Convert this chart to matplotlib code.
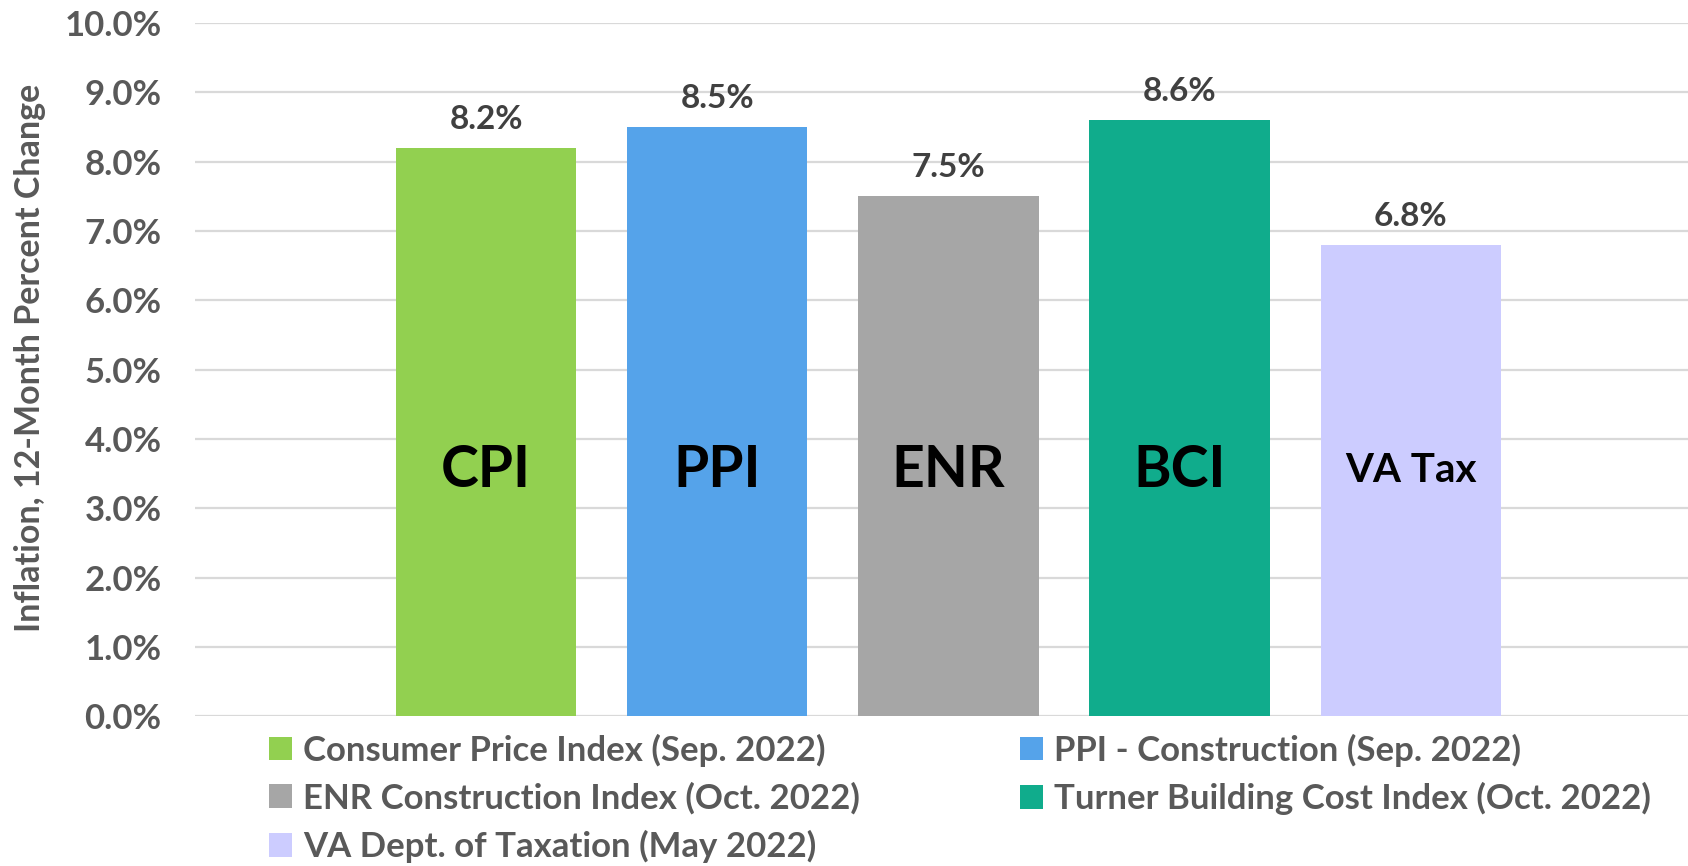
import matplotlib

matplotlib.use("Agg")
import matplotlib.pyplot as plt  # noqa: E402
from matplotlib.patches import Patch  # noqa: E402
from matplotlib.ticker import FuncFormatter, MultipleLocator  # noqa: E402

plt.rcParams["font.family"] = ["Lato", "DejaVu Sans"]

short_names = ["CPI", "PPI", "ENR", "BCI", "VA Tax"]
long_names = [
    "Consumer Price Index (Sep. 2022)",
    "PPI - Construction (Sep. 2022)",
    "ENR Construction Index (Oct. 2022)",
    "Turner Building Cost Index (Oct. 2022)",
    "VA Dept. of Taxation (May 2022)",
]
values = [8.2, 8.5, 7.5, 8.6, 6.8]
colors = ["#92D050", "#55A3EA", "#A6A6A6", "#10AC8C", "#CCCCFF"]

TICK_GREY = "#595959"

fig = plt.figure(figsize=(16.88, 8.66), dpi=100)
ax = fig.add_axes([0.1155, 0.173, 0.8845, 0.8005])

x = list(range(len(values)))
ax.bar(x, values, width=0.78, color=colors, zorder=2)

for xi, v in zip(x, values):
    ax.annotate(f"{v:.1f}%", (xi, v), xytext=(0, 10), textcoords="offset points",
                ha="center", va="bottom", fontsize=24, fontweight="bold", color="#404040")

for xi, name in zip(x, short_names):
    size = 29 if name == "VA Tax" else 41
    ax.text(xi, 3.55, name, ha="center", va="center", fontsize=size,
            fontweight="bold", color="black", zorder=3)

ax.set_xlim(-1.26, 5.2)
ax.set_ylim(0, 10)
ax.yaxis.set_major_locator(MultipleLocator(1))
ax.yaxis.set_major_formatter(FuncFormatter(lambda v, _: f"{v:.1f}%"))
ax.grid(axis="y", color="#D9D9D9", linewidth=1.6, zorder=0)
ax.set_axisbelow(True)
ax.set_xticks([])
for s in ax.spines.values():
    s.set_visible(False)
ax.tick_params(axis="y", length=0, pad=24, labelsize=25, labelcolor=TICK_GREY)
for lab in ax.get_yticklabels():
    lab.set_fontweight("bold")

fig.text(0.018, 0.587, "Inflation, 12-Month Percent Change", rotation=90,
         ha="center", va="center", fontsize=24.5, fontweight="bold", color=TICK_GREY)

handles = [Patch(facecolor=c, edgecolor="none") for c in colors]
order = [0, 2, 4, 1, 3]
leg = fig.legend([handles[i] for i in order], [long_names[i] for i in order],
                 ncol=2, loc="upper left", bbox_to_anchor=(0.1594, 0.153),
                 frameon=False, fontsize=25, handlelength=0.67, handleheight=0.67,
                 handletextpad=0.32, columnspacing=4.6, labelspacing=0.44,
                 borderaxespad=0, borderpad=0)
for t in leg.get_texts():
    t.set_color(TICK_GREY)
    t.set_fontweight("bold")

fig.savefig("out.png", dpi=100)
